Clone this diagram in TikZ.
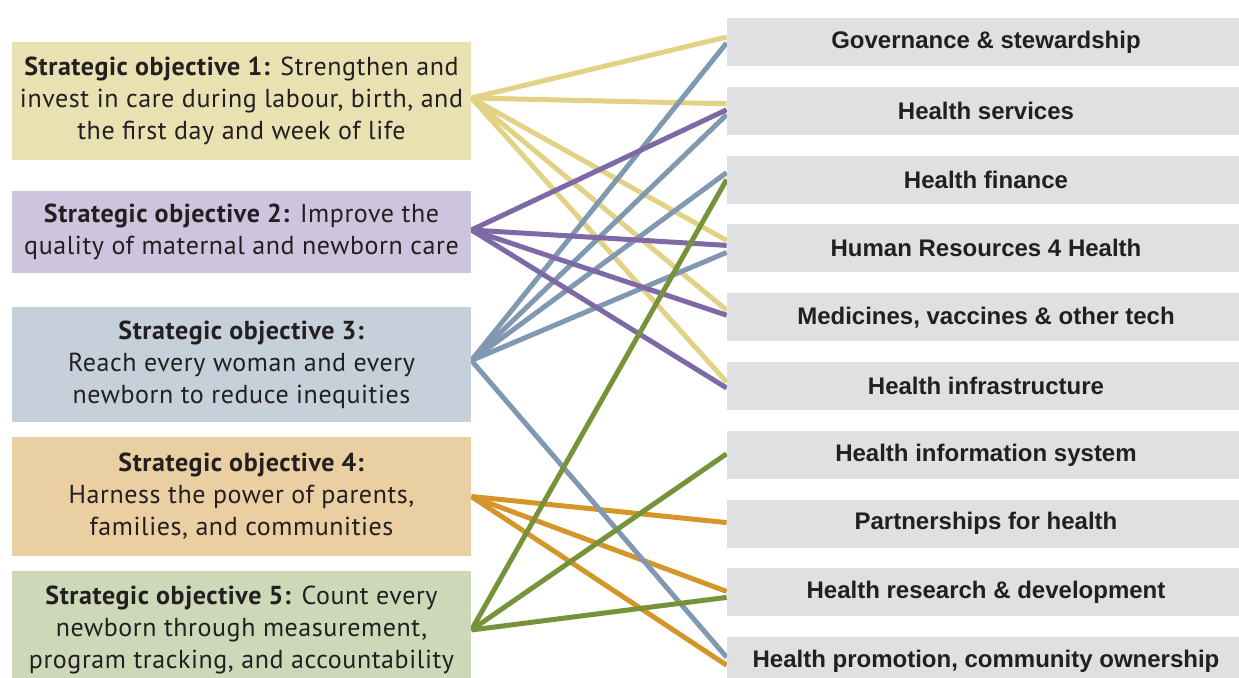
\documentclass[tikz,border=0pt]{standalone}
\usepackage{fontspec}
\setmainfont[LetterSpace=2.2]{PT Sans}
\newfontfamily\areafont{Liberation Sans}
\usetikzlibrary{calc,backgrounds}

\definecolor{soA}{HTML}{EAE1B3}
\definecolor{soB}{HTML}{CDC5DE}
\definecolor{soC}{HTML}{C5D0DB}
\definecolor{soD}{HTML}{EACFA3}
\definecolor{soE}{HTML}{CDD8B8}
\definecolor{areagrey}{HTML}{DFE0E2}
\definecolor{lnA}{HTML}{E2D286}
\definecolor{lnB}{HTML}{7D69A5}
\definecolor{lnC}{HTML}{8099B0}
\definecolor{lnD}{HTML}{D49628}
\definecolor{lnE}{HTML}{76933A}
\definecolor{txt}{HTML}{231F20}

\tikzset{
  objbox/.style={rectangle, inner sep=0pt, minimum width=229.5pt, align=center, text=txt,
    font=\fontsize{13pt}{16pt}\selectfont},
  areabox/.style={rectangle, inner sep=0pt, fill=areagrey, minimum width=259pt, minimum height=24pt,
    text=txt, font=\areafont\bfseries\fontsize{12pt}{14pt}\selectfont},
  link/.style={line width=2.5pt}
}

\begin{document}
\begin{tikzpicture}[x=0.5pt,y=-0.5pt]
\useasboundingbox (0,0) rectangle (1239,678);

% Strategic objectives
\node[objbox, fill=soA, minimum height=59pt] (so1) at (241.5,101) {\textbf{Strategic objective 1:} Strengthen and\\invest in care during labour, birth, and\\the first day and week of life};
\node[objbox, fill=soB, minimum height=41pt] (so2) at (241.5,232) {\textbf{Strategic objective 2:} Improve the\\quality of maternal and newborn care};
\node[objbox, fill=soC, minimum height=57.5pt] (so3) at (241.5,364.5) {\textbf{Strategic objective 3:}\\Reach every woman and every\\newborn to reduce inequities};
\node[objbox, fill=soD, minimum height=59.5pt] (so4) at (241.5,496.5) {\textbf{Strategic objective 4:}\\Harness the power of parents,\\families, and communities};
\node[objbox, fill=soE, minimum height=59pt] (so5) at (241.5,630) {\textbf{Strategic objective 5:} Count every\\newborn through measurement,\\program tracking, and accountability};

% Health system areas
\node[areabox] (gov) at (986,42) {Governance \& stewardship};
\node[areabox] (serv) at (986,110.8) {Health services};
\node[areabox] (fin) at (986,179.6) {Health finance};
\node[areabox] (hr) at (986,248.4) {Human Resources 4 Health};
\node[areabox] (med) at (986,317.2) {Medicines, vaccines \& other tech};
\node[areabox] (infra) at (986,386) {Health infrastructure};
\node[areabox] (info) at (986,454.8) {Health information system};
\node[areabox] (part) at (986,523.6) {Partnerships for health};
\node[areabox] (rd) at (986,592.4) {Health research \& development};
\node[areabox] (promo) at (986,661.2) {Health promotion, community ownership};

% Links
\begin{scope}[on background layer]
\draw[link, lnA] ($(so1.east)+(0,-3)$) -- ($(gov.west)+(0,-5)$);
\draw[link, lnA] ($(so1.east)+(0,-3)$) -- ($(serv.west)+(0,-7)$);
\draw[link, lnA] ($(so1.east)+(0,-3)$) -- ($(hr.west)+(0,-8)$);
\draw[link, lnA] ($(so1.east)+(0,-3)$) -- ($(med.west)+(0,-7)$);
\draw[link, lnA] ($(so1.east)+(0,-3)$) -- ($(infra.west)+(0,-4)$);

\draw[link, lnD] ($(so4.east)+(0,0)$) -- ($(part.west)+(0,-1)$);
\draw[link, lnD] ($(so4.east)+(0,0)$) -- ($(rd.west)+(0,-1)$);
\draw[link, lnD] ($(so4.east)+(0,0)$) -- ($(promo.west)+(0,4)$);

\draw[link, lnC] ($(so3.east)+(0,-4)$) -- ($(gov.west)+(0,1)$);
\draw[link, lnC] ($(so3.east)+(0,-4)$) -- ($(serv.west)+(0,4)$);
\draw[link, lnC] ($(so3.east)+(0,-4)$) -- ($(fin.west)+(0,-7)$);
\draw[link, lnC] ($(so3.east)+(0,-4)$) -- ($(hr.west)+(0,4)$);
\draw[link, lnC] ($(so3.east)+(0,-4)$) -- ($(promo.west)+(0,-4)$);

\draw[link, lnB] ($(so2.east)+(0,-2)$) -- ($(serv.west)+(0,-1)$);
\draw[link, lnB] ($(so2.east)+(0,-2)$) -- ($(hr.west)+(0,-3)$);
\draw[link, lnB] ($(so2.east)+(0,-2)$) -- ($(med.west)+(0,-2)$);
\draw[link, lnB] ($(so2.east)+(0,-2)$) -- ($(infra.west)+(0,2)$);

\draw[link, lnE] ($(so5.east)+(0,0)$) -- ($(fin.west)+(0,0)$);
\draw[link, lnE] ($(so5.east)+(0,0)$) -- ($(info.west)+(0,-1)$);
\draw[link, lnE] ($(so5.east)+(0,0)$) -- ($(rd.west)+(0,5)$);
\end{scope}

\end{tikzpicture}
\end{document}
